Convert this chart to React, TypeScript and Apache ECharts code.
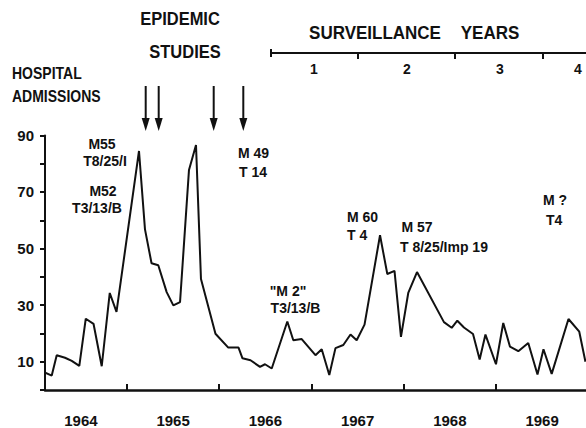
import React, { useEffect, useRef } from "react";
import * as echarts from "echarts";

const times = [
  1964.095, 1964.184, 1964.238, 1964.328, 1964.401, 1964.483, 1964.553, 1964.637,
  1964.726, 1964.813, 1964.886, 1965.13, 1965.195, 1965.266, 1965.339, 1965.43,
  1965.502, 1965.575, 1965.672, 1965.748, 1965.802, 1965.959, 1966.098, 1966.209,
  1966.252, 1966.339, 1966.442, 1966.496, 1966.569, 1966.738, 1966.803, 1966.894,
  1967.043, 1967.111, 1967.193, 1967.26, 1967.345, 1967.423, 1967.49, 1967.575,
  1967.743, 1967.822, 1967.9, 1967.97, 1968.049, 1968.144, 1968.436, 1968.52,
  1968.581, 1968.653, 1968.751, 1968.823, 1968.886, 1969.0, 1969.079, 1969.152,
  1969.242, 1969.35, 1969.45, 1969.515, 1969.604, 1969.786, 1969.903, 1969.97,
];
const admissions = [
  6.4, 5.1, 12.3, 11.4, 10.3, 8.5, 25.2, 23.4,
  8.4, 34.3, 27.6, 84.5, 56.8, 44.8, 44.1, 34.6,
  29.9, 31.1, 77.8, 86.6, 39.2, 19.9, 15, 15,
  11.2, 10.5, 8.2, 9.1, 7.6, 24.2, 17.6, 18,
  12.3, 14.4, 5.3, 14.8, 15.9, 19.6, 17.6, 23.1,
  54.7, 41, 42.1, 18.8, 34.3, 41.7, 24, 22,
  24.5, 22.1, 19.8, 10.8, 19.6, 9.1, 23.7, 15.3,
  13.7, 16.6, 5.5, 14.4, 5.7, 25.1, 20.6, 10,
];
const yearLabels = ["1964", "1965", "1966", "1967", "1968", "1969"];
const yearBoundaries = [1965, 1966, 1967, 1968, 1969];
const yTickLabels = [10, 30, 50, 70, 90];
const surveillanceYears = ["1", "2", "3", "4"];

const FONT = '"Liberation Sans", Arial, Helvetica, sans-serif';
const INK = "#111";

function txt(text: string, x: number, y: number, size: number, align: string = "center", sy: number = 1) {
  return {
    type: "text",
    x,
    y,
    scaleY: sy,
    style: {
      text,
      fill: INK,
      fontFamily: FONT,
      fontSize: size,
      fontWeight: "bold",
      align,
      verticalAlign: "middle",
    },
  };
}

function arrow(x: number) {
  return [
    { type: "line", shape: { x1: x, y1: 86, x2: x, y2: 121 }, style: { stroke: INK, lineWidth: 2 } },
    { type: "polygon", shape: { points: [[x - 4, 118], [x + 4, 118], [x, 131]] }, style: { fill: INK } },
  ];
}

export default function App() {
  const ref = useRef<HTMLDivElement>(null);
  useEffect(() => {
    if (!ref.current) return;
    const chart = echarts.init(ref.current, null, { renderer: "svg" });
    const data = times.map((t, i) => [t, admissions[i]]);
    const survTicks = [358, 455, 543];
    const survLabelX = [314, 407, 500, 578];
    const graphic: any[] = [
      txt("EPIDEMIC", 180, 19, 16.5, "center", 1.12),
      txt("STUDIES", 185, 52, 16.5, "center", 1.12),
      txt("HOSPITAL", 12, 73, 14, "left", 1.15),
      txt("ADMISSIONS", 12, 96, 14, "left", 1.15),
      txt("SURVEILLANCE", 375, 33, 17, "center", 1.1),
      txt("YEARS", 490, 33, 17, "center", 1.1),
      { type: "line", shape: { x1: 271, y1: 53, x2: 586, y2: 53 }, style: { stroke: INK, lineWidth: 2 } },
      { type: "line", shape: { x1: 271, y1: 49, x2: 271, y2: 57 }, style: { stroke: INK, lineWidth: 2 } },
      ...survTicks.map((x) => ({ type: "line", shape: { x1: x, y1: 53, x2: x, y2: 59 }, style: { stroke: INK, lineWidth: 2 } })),
      ...surveillanceYears.map((s, i) => txt(s, survLabelX[i], 69, 14, "center", 1.1)),
      ...arrow(145.7),
      ...arrow(158.7),
      ...arrow(213.7),
      ...arrow(243.3),
      txt("M55", 102, 144, 14),
      txt("T8/25/I", 105, 161, 14),
      txt("M52", 103, 191, 14),
      txt("T3/13/B", 97, 208, 14),
      txt("M 49", 238, 153, 14, "left"),
      txt("T 14", 239, 172, 14, "left"),
      txt('"M 2"', 288, 291, 14),
      txt("T3/13/B", 295.5, 308, 14),
      txt("M 60", 347, 217, 14, "left"),
      txt("T 4", 347, 235, 14, "left"),
      txt("M 57", 401.5, 227, 14, "left"),
      txt("T 8/25/Imp 19", 400, 247, 14, "left"),
      txt("M ?", 543, 200, 14, "left"),
      txt("T4", 546, 220, 14, "left"),
    ];
    chart.setOption({
      animation: false,
      backgroundColor: "#fff",
      textStyle: { fontFamily: FONT },
      grid: { left: 45, right: 0, top: 135.4, bottom: 36.2, containLabel: false },
      xAxis: {
        type: "value",
        min: 1964.111,
        max: 1969.976,
        splitLine: { show: false },
        axisLine: { show: true, onZero: false, lineStyle: { color: INK, width: 2.5 } },
        axisTick: { show: true, inside: true, length: 6, customValues: yearBoundaries, lineStyle: { color: INK, width: 2 } },
        axisLabel: {
          show: true,
          customValues: yearBoundaries.map((y) => y - 0.5).concat([1969.5]),
          formatter: (v: number) => yearLabels[Math.floor(v) - 1964] ?? "",
          margin: 23,
          color: INK,
          fontSize: 15,
          fontWeight: "bold",
          fontFamily: FONT,
        },
      },
      yAxis: {
        type: "value",
        min: 0,
        max: 90,
        interval: 10,
        splitLine: { show: false },
        axisLine: { show: true, lineStyle: { color: INK, width: 2 } },
        axisTick: { show: true, inside: false, length: 5, lineStyle: { color: INK, width: 2 } },
        axisLabel: {
          show: true,
          customValues: yTickLabels,
          margin: 11,
          color: INK,
          fontSize: 15,
          fontWeight: "bold",
          fontFamily: FONT,
        },
      },
      series: [
        {
          type: "line",
          data,
          symbol: "none",
          lineStyle: { color: INK, width: 2 },
          clip: false,
        },
      ],
      graphic,
    });
    return () => chart.dispose();
  }, []);
  return (
    <div
      ref={ref}
      style={{ position: "fixed", left: 0, top: 0, width: 586, height: 428, background: "#fff" }}
    />
  );
}
